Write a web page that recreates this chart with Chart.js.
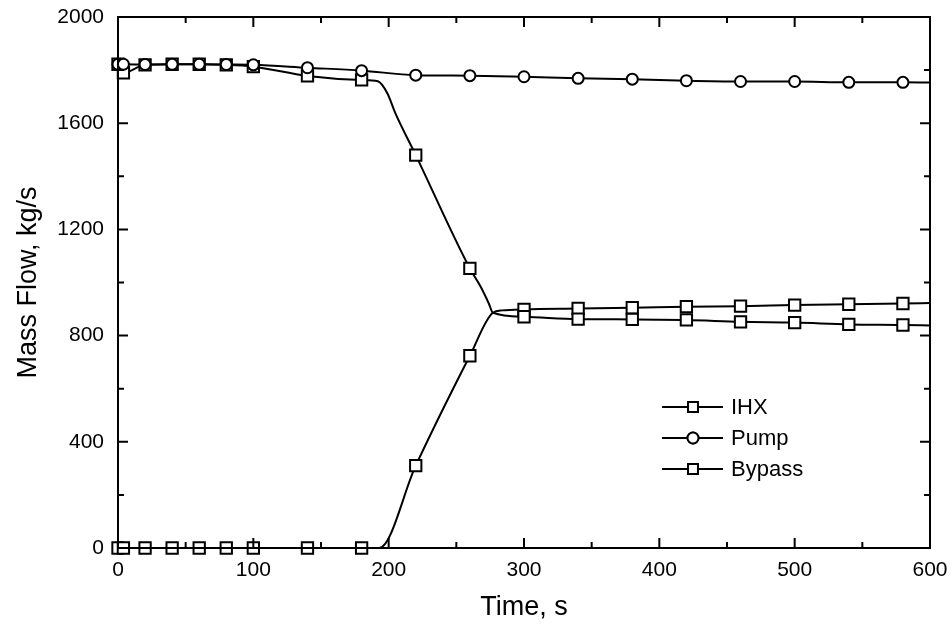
<!DOCTYPE html>
<html>
<head>
<meta charset="utf-8">
<script src="https://cdn.jsdelivr.net/npm/chart.js@4"></script>
<style>
  html, body { margin: 0; padding: 0; background: #fff; }
  #wrap { width: 951px; height: 626px; }
</style>
</head>
<body>
<div id="wrap"><canvas id="grafica"></canvas></div>
<script>
// tiempos en los que la figura original pinta un marcador
const tiemposMarcados = [0, 4, 20, 40, 60, 80, 100, 140, 180, 220, 260, 300, 340, 380, 420, 460, 500, 540, 580];

// IHX (cuadrados)
const ihxTiempo = [0, 4, 20, 40, 60, 80, 100, 140, 180, 192, 199, 205, 220, 260, 268, 274, 277, 300, 340, 380, 420, 460, 500, 540, 580, 600];
const ihxFlujo  = [1822, 1790, 1820, 1822, 1822, 1820, 1813, 1778, 1763, 1758, 1713, 1637, 1480, 1053, 984, 921, 886, 871, 862, 861, 859, 852, 849, 842, 840, 838];

// Pump (circulos)
const pumpTiempo = [0, 4, 20, 40, 60, 80, 100, 140, 180, 220, 260, 300, 340, 380, 420, 460, 500, 540, 580, 600];
const pumpFlujo  = [1822, 1822, 1821, 1822, 1822, 1821, 1820, 1809, 1798, 1781, 1779, 1775, 1769, 1766, 1760, 1757, 1757, 1754, 1754, 1753];

// Bypass (cuadrados)
const bypassTiempo = [0, 4, 20, 40, 60, 80, 100, 140, 180, 193, 220, 260, 277, 284, 300, 340, 380, 420, 460, 500, 540, 580, 600];
const bypassFlujo  = [0, 0, 0, 0, 0, 0, 0, 0, 0, 0, 310, 724, 886, 895, 899, 902, 905, 909, 911, 915, 918, 921, 923];

const nombresSeries = ['IHX', 'Pump', 'Bypass'];
const ticksX = [0, 100, 200, 300, 400, 500, 600];
const ticksY = [0, 400, 800, 1200, 1600, 2000];

const FUENTE = '"Liberation Sans", Arial, Helvetica, sans-serif';

function puntos(ts, vs) {
    return ts.map((t, i) => ({ x: t, y: vs[i] }));
}

function radioMarcador(r) {
    return ctx => {
        const p = ctx.raw;
        return p && tiemposMarcados.includes(p.x) ? r : 0;
    };
}

function serie(nombre, ts, vs, estilo, radio, orden) {
    return {
        label: nombre,
        data: puntos(ts, vs),
        borderColor: '#000', borderWidth: 2,
        pointStyle: estilo,
        pointRadius: radioMarcador(radio),
        pointHoverRadius: radioMarcador(radio),
        pointBackgroundColor: '#fff', pointBorderColor: '#000', pointBorderWidth: 2,
        cubicInterpolationMode: 'monotone',
        clip: false,
        order: orden
    };
}

// marco, ticks hacia dentro en los cuatro lados y leyenda con linea+marcador
const decoracion = {
    id: 'decoracion',
    afterDraw(chart) {
        const { ctx, chartArea: a, scales } = chart;
        ctx.save();
        ctx.strokeStyle = '#000';
        ctx.lineWidth = 2;
        ctx.strokeRect(a.left, a.top, a.right - a.left, a.bottom - a.top);

        const mayor = 10, menor = 6;
        for (let v = 0; v <= 600; v += 50) {
            const x = scales.x.getPixelForValue(v);
            const l = v % 100 === 0 ? mayor : menor;
            ctx.beginPath();
            ctx.moveTo(x, a.bottom); ctx.lineTo(x, a.bottom - l);
            ctx.moveTo(x, a.top); ctx.lineTo(x, a.top + l);
            ctx.stroke();
        }
        for (let v = 0; v <= 2000; v += 200) {
            const y = scales.y.getPixelForValue(v);
            const l = v % 400 === 0 ? mayor : menor;
            ctx.beginPath();
            ctx.moveTo(a.left, y); ctx.lineTo(a.left + l, y);
            ctx.moveTo(a.right, y); ctx.lineTo(a.right - l, y);
            ctx.stroke();
        }

        // leyenda
        const estilos = ['rect', 'circle', 'rect'];
        const x0 = a.left + 544, x1 = a.left + 605, xm = a.left + 575;
        ctx.font = '22px ' + FUENTE;
        ctx.fillStyle = '#000';
        ctx.textBaseline = 'middle';
        nombresSeries.forEach((nombre, i) => {
            const y = a.top + 390 + i * 31;
            ctx.lineWidth = 2;
            ctx.beginPath();
            ctx.moveTo(x0, y); ctx.lineTo(x1, y);
            ctx.stroke();
            ctx.fillStyle = '#fff';
            Chart.helpers.drawPoint(ctx, { pointStyle: estilos[i], radius: estilos[i] === 'rect' ? 7 : 5.5, borderWidth: 2 }, xm, y);
            ctx.fill();
            ctx.stroke();
            ctx.fillStyle = '#000';
            ctx.fillText(nombre, x1 + 8, y + 1);
        });
        ctx.restore();
    }
};

new Chart(document.getElementById('grafica'), {
    type: 'line',
    data: {
        datasets: [
            serie(nombresSeries[0], ihxTiempo, ihxFlujo, 'rect', 8, 1),
            serie(nombresSeries[1], pumpTiempo, pumpFlujo, 'circle', 5.5, 0),
            serie(nombresSeries[2], bypassTiempo, bypassFlujo, 'rect', 8, 2)
        ]
    },
    options: {
        responsive: true, maintainAspectRatio: false, animation: false,
        layout: { padding: { top: 17, right: 21, left: 0, bottom: 0 } },
        plugins: { legend: { display: false }, tooltip: { enabled: false } },
        scales: {
            x: {
                type: 'linear', min: 0, max: 600,
                afterBuildTicks: s => { s.ticks = ticksX.map(v => ({ value: v })); },
                afterFit: s => { s.height = 78; s.paddingLeft = 0; s.paddingRight = 0; },
                grid: { display: false, drawTicks: false },
                border: { display: true, color: '#000', width: 2 },
                ticks: { color: '#000', padding: 10, maxRotation: 0, callback: v => String(v), font: { family: FUENTE, size: 21 } },
                title: { display: true, text: 'Time, s', color: '#000', padding: { top: 0, bottom: 2 }, font: { family: FUENTE, size: 27 } }
            },
            y: {
                type: 'linear', min: 0, max: 2000,
                afterBuildTicks: s => { s.ticks = ticksY.map(v => ({ value: v })); },
                afterFit: s => { s.width = 118; s.paddingTop = 0; s.paddingBottom = 0; },
                grid: { display: false, drawTicks: false },
                border: { display: true, color: '#000', width: 2 },
                ticks: { color: '#000', padding: 14, callback: v => String(v), font: { family: FUENTE, size: 21 } },
                title: { display: true, text: 'Mass Flow, kg/s', color: '#000', padding: { top: 12, bottom: 0 }, font: { family: FUENTE, size: 27 } }
            }
        }
    },
    plugins: [decoracion]
});
</script>
</body>
</html>
